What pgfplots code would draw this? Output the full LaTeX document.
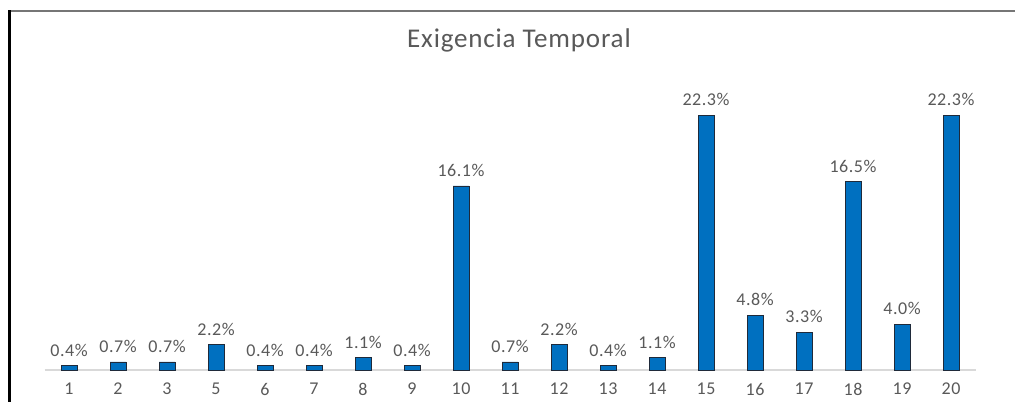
\documentclass[border=0pt]{standalone}
\usepackage{pgfplots}
\pgfplotsset{compat=1.18}
\usepackage{fontspec}
\setmainfont{Carlito}
\newfontfamily\widefont[LetterSpace=3]{Carlito}
\definecolor{barblue}{HTML}{0070C0}
\definecolor{baredge}{HTML}{1F2A3A}
\definecolor{txtgray}{HTML}{595959}
\definecolor{basegray}{HTML}{D9D9D9}
\definecolor{framegray}{HTML}{767676}
\begin{document}
\begin{tikzpicture}[x=1pt,y=1pt]
\begin{axis}[
  at={(33.375pt,24pt)}, anchor=south west,
  scale only axis,
  width=698.25pt, height=214.35pt,
  xmin=-0.5, xmax=18.5, ymin=0, ymax=25,
  axis x line=bottom, axis y line=none,
  x axis line style={-, draw=basegray, line width=1pt},
  ytick=\empty,
  xtick=data,
  xticklabels={1,2,3,5,6,7,8,9,10,11,12,13,14,15,16,17,18,19,20},
  major tick length=0pt,
  xticklabel style={font=\widefont\fontsize{13.5pt}{15pt}\selectfont, text=txtgray, anchor=north, inner sep=0pt, yshift=-9.5pt},
  /pgf/number format/assume math mode=true,
  ybar, bar width=12pt,
  nodes near coords={\pgfmathprintnumber[fixed,fixed zerofill,precision=1]{\pgfplotspointmeta}\%},
  every node near coord/.append style={font=\widefont\fontsize{13.5pt}{15pt}\selectfont, text=txtgray, anchor=base, inner sep=0pt, yshift=7pt},
  clip=false,
]
\addplot[fill=barblue, draw=baredge, line width=0.6pt] coordinates {
  (0,0.4) (1,0.7) (2,0.7) (3,2.2) (4,0.4) (5,0.4) (6,1.1) (7,0.4)
  (8,16.1) (9,0.7) (10,2.2) (11,0.4) (12,1.1) (13,22.3) (14,4.8)
  (15,3.3) (16,16.5) (17,4.0) (18,22.3)
};
\end{axis}
% chart frame and title
\draw[framegray, line width=1.1pt] (6pt,293.25pt) -- (761.25pt,293.25pt);
\draw[black, line width=2.25pt] (6.75pt,0pt) -- (6.75pt,293.9pt);
\node[text=txtgray, font=\widefont\fontsize{20.3pt}{23pt}\selectfont] at (389.25pt,271.5pt) {Exigencia Temporal};
\pgfresetboundingbox
\path (0pt,0pt) rectangle (761.25pt,301.5pt);
\end{tikzpicture}
\end{document}
